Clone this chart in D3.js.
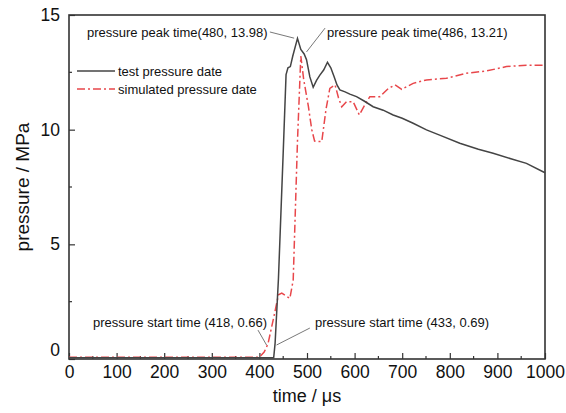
<!DOCTYPE html>
<html>
<head>
<meta charset="utf-8">
<script src="https://cdn.jsdelivr.net/npm/d3@7"></script>
<style>
  html, body { margin: 0; padding: 0; background: #fff; }
  svg { display: block; font-family: "Liberation Sans", Arial, sans-serif; }
</style>
</head>
<body>
<svg id="chart" width="566" height="413"></svg>
<script>
// ---- data ----
const testTime = [0, 430, 433, 440, 450, 456, 460, 465, 470, 480, 487, 494, 499, 506, 513, 520, 527, 535, 543, 550, 557, 563, 569, 580, 590, 604, 620, 639, 660, 681, 700, 723, 751, 780, 821, 860, 891, 930, 961, 1000];
const testPressure = [0.05, 0.05, 0.69, 3.5, 9.0, 12.4, 12.7, 12.75, 13.2, 13.98, 13.5, 13.3, 13.05, 12.3, 11.85, 12.15, 12.38, 12.6, 12.94, 12.7, 12.31, 11.95, 11.73, 11.65, 11.55, 11.44, 11.25, 11.0, 10.85, 10.64, 10.5, 10.28, 9.99, 9.75, 9.41, 9.15, 8.97, 8.72, 8.53, 8.12];

const simTime = [0, 400, 410, 418, 430, 440, 447, 464, 471, 480, 487, 493, 503, 510, 516, 520, 531, 540, 548, 559, 566, 573, 583, 597, 610, 622, 632, 653, 671, 685, 699, 723, 751, 793, 835, 877, 919, 961, 1000];
const simPressure = [0.08, 0.08, 0.3, 0.66, 1.8, 2.8, 2.87, 2.64, 3.44, 9.5, 13.21, 12.2, 11.0, 10.0, 9.5, 9.48, 9.48, 10.9, 11.8, 11.95, 11.4, 11.0, 11.22, 11.22, 10.64, 11.1, 11.44, 11.44, 11.8, 11.95, 11.76, 12.02, 12.17, 12.24, 12.46, 12.56, 12.75, 12.81, 12.81];

const xTicks = [0, 100, 200, 300, 400, 500, 600, 700, 800, 900, 1000];
const yTicks = [0, 5, 10, 15];
const seriesNames = ["test pressure date", "simulated pressure date"];
const annotationTexts = ["pressure peak time(480, 13.98)", "pressure peak time(486, 13.21)",
                         "pressure start time (418, 0.66)", "pressure start time (433, 0.69)"];
const xTitle = "time / \u03bcs";
const yTitle = "pressure / MPa";

// ---- layout ----
const svg = d3.select("#chart");
const L = 69, R = 545, T = 15, B = 359;
const x = d3.scaleLinear().domain([0, 1000]).range([L, R]);
const y = d3.scaleLinear().domain([0, 15]).range([B, T]);

const axisColor = "#333";

// minor ticks
const g = svg.append("g");
const xMinor = d3.range(50, 1000, 100);
const yMinor = [2.5, 7.5, 12.5];
g.selectAll(".xmin").data(xMinor).join("line")
  .attr("x1", d => x(d)).attr("x2", d => x(d))
  .attr("y1", B).attr("y2", B - 3)
  .attr("stroke", axisColor).attr("stroke-width", 1.2);
g.selectAll(".ymin").data(yMinor).join("line")
  .attr("y1", d => y(d)).attr("y2", d => y(d))
  .attr("x1", L).attr("x2", L + 3)
  .attr("stroke", axisColor).attr("stroke-width", 1.2);

// x axis
const xAxis = d3.axisBottom(x).tickValues(xTicks).tickSizeInner(-6).tickSizeOuter(0).tickPadding(7).tickFormat(d3.format("d"));
const gx = svg.append("g").attr("transform", `translate(0,${B})`).call(xAxis);
gx.select(".domain").remove();
gx.selectAll(".tick line").attr("stroke", axisColor).attr("stroke-width", 1.2);
gx.selectAll(".tick text").attr("fill", "#111").style("font-size", "17.5px")
  .attr("font-family", "'Liberation Sans', Arial, sans-serif");

// y axis
const yAxis = d3.axisLeft(y).tickValues(yTicks).tickSizeInner(-6).tickSizeOuter(0).tickPadding(9).tickFormat(d3.format("d"));
const gy = svg.append("g").attr("transform", `translate(${L},0)`).call(yAxis);
gy.select(".domain").remove();
gy.selectAll(".tick line").attr("stroke", axisColor).attr("stroke-width", 1.2);
gy.selectAll(".tick text").attr("fill", "#111").style("font-size", "17.5px")
  .attr("font-family", "'Liberation Sans', Arial, sans-serif");
gy.selectAll(".tick").filter(d => d === 0).select("text").attr("dy", "-0.2em");

// frame
svg.append("rect").attr("x", L).attr("y", T).attr("width", R - L).attr("height", B - T)
  .attr("fill", "none").attr("stroke", axisColor).attr("stroke-width", 1.6);

// lines
const line = d3.line().x(d => x(d[0])).y(d => y(d[1]));
const testData = testTime.map((t, i) => [t, testPressure[i]]);
const simData = simTime.map((t, i) => [t, simPressure[i]]);

svg.append("path").datum(simData).attr("d", line)
  .attr("fill", "none").attr("stroke", "#e8474b").attr("stroke-width", 1.5)
  .attr("stroke-dasharray", "8,3,2,3");
svg.append("path").datum(testData).attr("d", line)
  .attr("fill", "none").attr("stroke", "#444").attr("stroke-width", 1.5);

// legend
const leg = svg.append("g").style("font-size", "13px");
const legY = [71, 89];
const legStyles = [{c: "#444", d: null}, {c: "#e8474b", d: "8,3,2,3"}];
seriesNames.forEach((name, i) => {
  leg.append("line").attr("x1", 77).attr("x2", 115).attr("y1", legY[i]).attr("y2", legY[i])
    .attr("stroke", legStyles[i].c).attr("stroke-width", 1.5)
    .attr("stroke-dasharray", legStyles[i].d);
  leg.append("text").attr("x", 118).attr("y", legY[i]).attr("dy", "0.35em")
    .attr("fill", "#111").text(name);
});

// annotations
const ann = svg.append("g").style("font-size", "13px");
const annPos = [
  {tx: 87, ty: 32, l: [[422, 14.26], [473, 13.99]]},
  {tx: 327, ty: 32, l: [[538, 14.43], [499, 13.39]]},
  {tx: 93, ty: 322, l: [[397, 1.26], [415, 0.61]]},
  {tx: 315, ty: 322, l: [[506, 1.35], [436, 0.61]]}
];
annotationTexts.forEach((t, i) => {
  const p = annPos[i];
  ann.append("text").attr("x", p.tx).attr("y", p.ty).attr("dy", "0.35em").attr("fill", "#111").text(t);
  ann.append("line")
    .attr("x1", x(p.l[0][0])).attr("y1", y(p.l[0][1]))
    .attr("x2", x(p.l[1][0])).attr("y2", y(p.l[1][1]))
    .attr("stroke", "#555").attr("stroke-width", 0.8);
});

// axis titles
svg.append("text").attr("x", (L + R) / 2).attr("y", 402).attr("text-anchor", "middle")
  .attr("fill", "#111").style("font-size", "18px").text(xTitle);
svg.append("text").attr("transform", `translate(22,${(T + B) / 2}) rotate(-90)`)
  .attr("text-anchor", "middle").attr("dy", "0.35em")
  .attr("fill", "#111").style("font-size", "19px").text(yTitle);
</script>
</body>
</html>
